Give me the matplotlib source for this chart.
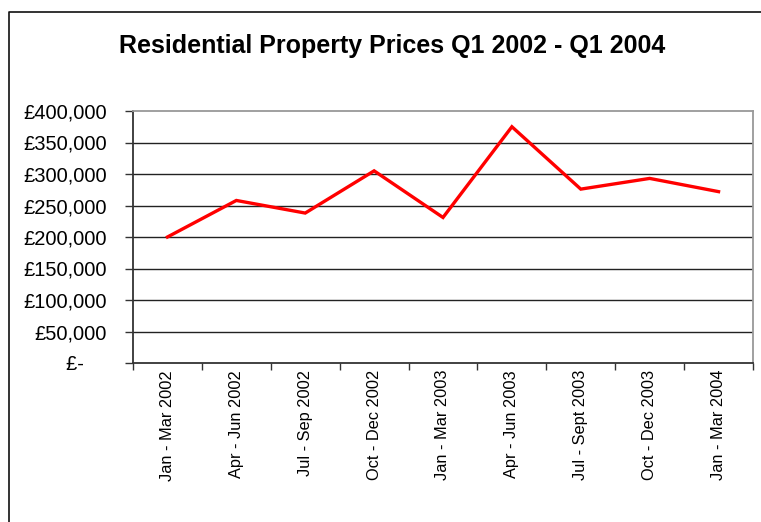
import matplotlib
matplotlib.use("Agg")
import matplotlib.pyplot as plt
from matplotlib.lines import Line2D
from matplotlib.ticker import FuncFormatter

plt.rcParams['font.family'] = ['Liberation Sans', 'DejaVu Sans']

quarters = ['Jan - Mar 2002', 'Apr - Jun 2002', 'Jul - Sep 2002', 'Oct - Dec 2002',
            'Jan - Mar 2003', 'Apr - Jun 2003', 'Jul - Sept 2003', 'Oct - Dec 2003',
            'Jan - Mar 2004']
prices = [200000, 258000, 238000, 305000, 231000, 375000, 276000, 293000, 272000]
y_ticks = [0, 50000, 100000, 150000, 200000, 250000, 300000, 350000, 400000]


def pound(v, pos):
    # Excel accounting style: zero shows as a dash
    if v == 0:
        return '£-    '
    return '£{:,.0f}'.format(v)


fig = plt.figure(figsize=(7.61, 5.22), dpi=100)
ax = fig.add_axes([133 / 761, 1 - 363 / 522, 620 / 761, 252 / 522])

x = list(range(len(quarters)))
ax.plot(x, prices, color='#ff0000', linewidth=2.4, solid_joinstyle='miter')

ax.set_xlim(-0.5, len(quarters) - 0.5)
ax.set_ylim(0, 400000)
ax.set_yticks(y_ticks)
ax.yaxis.set_major_formatter(FuncFormatter(pound))

# category labels at centres, tick marks at the boundaries
ax.set_xticks([i - 0.5 for i in range(len(quarters) + 1)])
ax.set_xticklabels([])
ax.set_xticks(x, minor=True)
ax.set_xticklabels(quarters, minor=True, rotation=90, fontsize=11.8)
ax.tick_params(axis='x', which='major', direction='out', length=5, width=1, color='#333333')
ax.tick_params(axis='x', which='minor', length=0, pad=5)
ax.tick_params(axis='y', direction='out', length=6, width=1, color='#333333',
               labelsize=14.5, pad=13)

for v in y_ticks[1:-1]:
    ax.axhline(v, color='#222222', linewidth=1, zorder=1)

for side in ['left', 'bottom']:
    ax.spines[side].set_color('#333333')
    ax.spines[side].set_linewidth(1.3)
for side in ['top', 'right']:
    ax.spines[side].set_color('#999999')
    ax.spines[side].set_linewidth(1.3)

fig.text(391.7 / 761, 1 - 52.7 / 522, 'Residential Property Prices Q1 2002 - Q1 2004',
         ha='center', va='baseline', fontsize=18, fontweight='bold')

# outer chart border (left and top edges visible)
fig.add_artist(Line2D([9 / 761, 9 / 761, 1.0], [0.0, 1 - 12 / 522, 1 - 12 / 522],
                      transform=fig.transFigure, color='#111111', linewidth=1.2))

fig.savefig('out.png', dpi=100)
